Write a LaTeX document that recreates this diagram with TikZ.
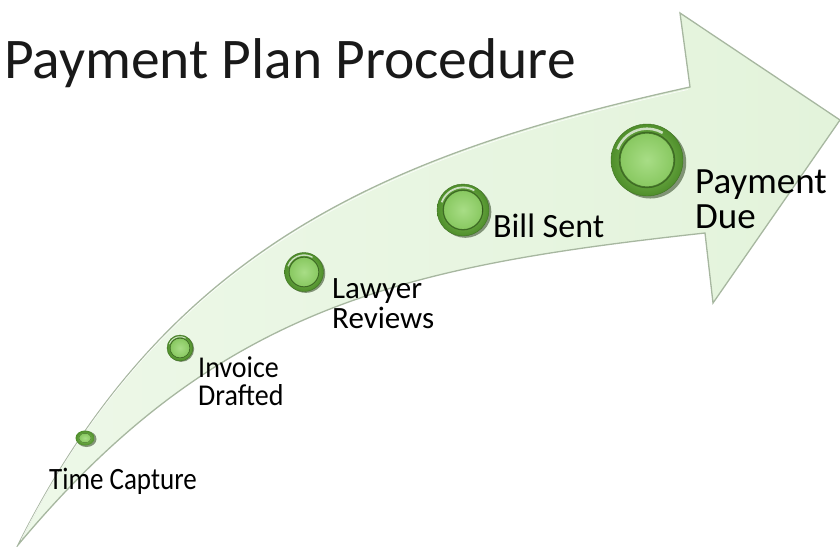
\documentclass[tikz,border=0pt]{standalone}
\usepackage{fontspec}
\usepackage{graphicx}
\setmainfont{Carlito}
\usetikzlibrary{shadings,shapes.geometric}
\definecolor{arrowfill}{HTML}{E3F3DB}
\definecolor{arrowfillB}{HTML}{EDF8E8}
\definecolor{arrowline}{HTML}{A7B7A0}
\definecolor{ringA}{HTML}{8CCB62}
\definecolor{ringB}{HTML}{4F8E2B}
\definecolor{innerA}{HTML}{A8DD86}
\definecolor{innerB}{HTML}{88C860}
\definecolor{shadowc}{HTML}{2E4420}
\tikzset{
  label/.style={anchor=base west, align=left, inner sep=0pt, text=black},
}
\newcommand{\bead}[4]{% name, x, y, radius
  \fill[shadowc, opacity=0.55] (#2+0.09*#4,#3+0.07*#4) circle [radius=#4];
  \node[circle, minimum size=2*#4 pt, inner sep=0pt, outer sep=0pt,
        inner color=ringA, outer color=ringB, draw=ringB!80!black, line width=0.4pt] (#1) at (#2,#3) {};
  \fill[inner color=innerA, outer color=innerB] (#2,#3) circle [radius=0.76*#4];
  \draw[white, opacity=0.7, line width=0.07*#4 pt] (#2,#3) ++(200:0.87*#4) arc[start angle=200, end angle=300, radius=0.87*#4];
  \draw[ringB!70!black, line width=0.05*#4 pt, opacity=0.8] (#2,#3) circle [radius=0.76*#4];
}
\begin{document}
\begin{tikzpicture}[x=1pt, y=-1pt]
\useasboundingbox (0,0) rectangle (840,546);
% big curved arrow
\path[draw=arrowline, line width=1.3pt, line join=miter, left color=arrowfillB, right color=arrowfill]
  (18,545) .. controls (168,245) and (390,153) .. (690,87)
  -- (680,13) -- (840,120) -- (713,303) -- (705,233)
  .. controls (405,266) and (218,305) .. (18,545)
  -- cycle;
\draw[white, line width=0.6pt, opacity=0.9]
  (21,540) .. controls (170,247) and (391,155) .. (688,89.5);
% title
\node[anchor=base west, inner sep=0pt, text=black!90] (title) at (4,78) {\fontsize{57.5}{60}\selectfont Payment Plan Procedure};
% beads
\fill[shadowc, opacity=0.55] (86.5,439) ellipse [x radius=10, y radius=8];
\node[ellipse, minimum width=19pt, minimum height=15pt, inner sep=0pt, inner color=ringA, outer color=ringB] (b1) at (85,438) {};
\fill[inner color=innerA, outer color=innerB] (85,438) ellipse [x radius=6, y radius=4.5];
\bead{b2}{180}{348}{13}
\bead{b3}{304}{272}{19.5}
\bead{b4}{463}{210}{26}
\bead{b5}{647}{160}{36}
% labels
\node[label, font=\fontsize{27}{28}\selectfont] (l1) at (49,489) {\scalebox{1}[1.15]{Time Capture}};
\node[label, font=\fontsize{28}{28}\selectfont] (l2) at (198,405) {\scalebox{1}[1.08]{Invoice}\\\scalebox{1}[1.08]{Drafted}};
\node[label, font=\fontsize{31}{30}\selectfont] (l3) at (332,328) {Lawyer\\Reviews};
\node[label, font=\fontsize{34}{34}\selectfont] (l4) at (493,237) {Bill Sent};
\node[label, font=\fontsize{37}{35}\selectfont] (l5) at (695,228) {Payment\\Due};
\end{tikzpicture}
\end{document}
